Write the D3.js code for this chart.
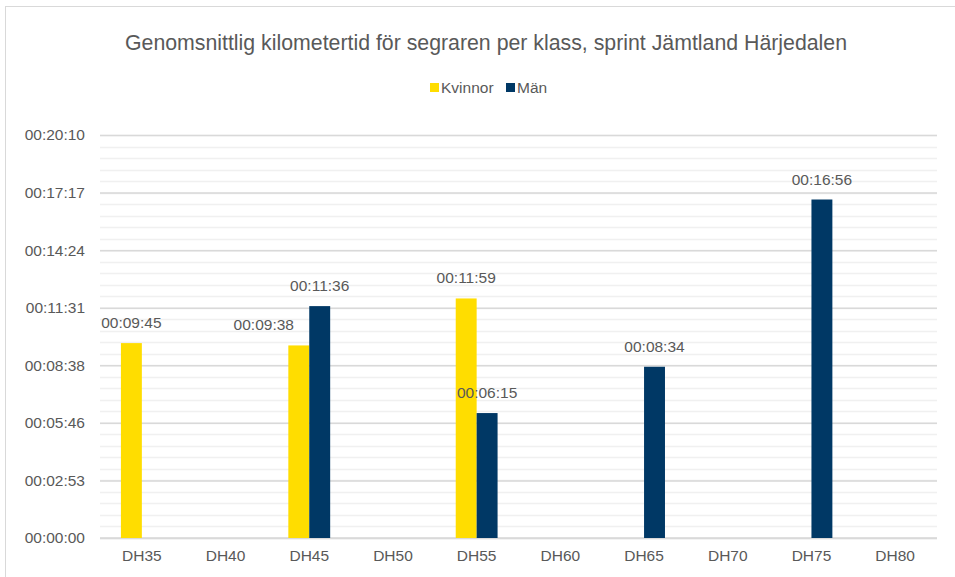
<!DOCTYPE html>
<html>
<head>
<meta charset="utf-8">
<script src="https://cdn.jsdelivr.net/npm/d3@7"></script>
<style>
  body { margin: 0; background: #fff; }
  text { font-family: "Liberation Sans", Arial, sans-serif; fill: #595959; }
</style>
</head>
<body>
<svg id="chart"></svg>
<script>
var width = 955
var height = 577

// data
var categories = ["DH35", "DH40", "DH45", "DH50", "DH55", "DH60", "DH65", "DH70", "DH75", "DH80"]
var seriesNames = ["Kvinnor", "Män"]
var kvinnor = ["00:09:45", null, "00:09:38", null, "00:11:59", null, null, null, null, null]
var man = [null, null, "00:11:36", null, "00:06:15", null, "00:08:34", null, "00:16:56", null]
var tickLabels = ["00:00:00", "00:02:53", "00:05:46", "00:08:38", "00:11:31", "00:14:24", "00:17:17", "00:20:10"]

var colors = {"Kvinnor": "#ffdd00", "Män": "#003865"}

function toSec(s) {
  var p = s.split(":").map(Number)
  return p[0] * 3600 + p[1] * 60 + p[2]
}

// excel axis: major unit 0.002 day, minor 0.0004 day
var majorStep = 0.002 * 86400
var minorStep = 0.0004 * 86400
var yMax = majorStep * (tickLabels.length - 1)

var margin = {left: 100, right: 18, top: 135, bottom: 39}

var svg = d3.select("svg#chart")
    .attr("width", width)
    .attr("height", height)

svg.append("rect")
    .attr("x", 5.5).attr("y", 6.5)
    .attr("width", width).attr("height", height)
    .attr("fill", "#fff")
    .attr("stroke", "#d9d9d9")

var y = d3.scaleLinear()
    .domain([0, yMax])
    .range([height - margin.bottom, margin.top])

var x0 = d3.scaleBand()
    .domain(categories)
    .range([margin.left, width - margin.right])
    .paddingInner(0.5)
    .paddingOuter(0.25)

var x1 = d3.scaleBand()
    .domain(seriesNames)
    .range([0, x0.bandwidth()])

// minor gridlines
var minorTicks = d3.range(0, yMax + 1, minorStep)
svg.append("g")
  .selectAll("line")
  .data(minorTicks)
  .enter().append("line")
    .attr("x1", margin.left)
    .attr("x2", width - margin.right)
    .attr("y1", d => Math.round(y(d)) + 0.5)
    .attr("y2", d => Math.round(y(d)) + 0.5)
    .attr("stroke", "#f0f0f0")
    .attr("stroke-width", 1.5)

// major gridlines + labels
var majorTicks = tickLabels.map((t, i) => i * majorStep)
var yAxis = d3.axisLeft(y)
    .tickValues(majorTicks)
    .tickFormat((d, i) => tickLabels[i])
    .tickSize(-(width - margin.left - margin.right))
    .tickPadding(15)

var gy = svg.append("g")
    .attr("transform", `translate(${margin.left},0)`)
    .call(yAxis)
gy.select(".domain").remove()
gy.selectAll(".tick line")
    .attr("stroke", "#d9d9d9")
    .attr("stroke-width", 1.5)
gy.selectAll(".tick text")
    .attr("fill", "#595959")
    .style("font-size", "15.5px")

// x axis
var xAxis = d3.axisBottom(x0).tickSize(0).tickPadding(12)
var gx = svg.append("g")
    .attr("transform", `translate(0,${y(0)})`)
    .call(xAxis)
gx.select(".domain")
    .attr("d", `M${margin.left},0H${width - margin.right}`)
    .attr("stroke", "#d9d9d9")
    .attr("stroke-width", 1.5)
gx.selectAll(".tick text")
    .attr("fill", "#595959")
    .style("font-size", "15.5px")

// bars
var rows = []
categories.forEach((c, i) => {
  if (kvinnor[i]) rows.push({cat: c, s: "Kvinnor", label: kvinnor[i], v: toSec(kvinnor[i])})
  if (man[i]) rows.push({cat: c, s: "Män", label: man[i], v: toSec(man[i])})
})

svg.append("g")
  .selectAll("rect")
  .data(rows)
  .enter().append("rect")
    .attr("x", d => x0(d.cat) + x1(d.s))
    .attr("y", d => y(d.v))
    .attr("width", x1.bandwidth())
    .attr("height", d => y(0) - y(d.v))
    .attr("fill", d => colors[d.s])

// excel nudges a label sideways when it would run into a taller neighbour bar
function labelShift(d) {
  var other = rows.find(r => r.cat === d.cat && r.s !== d.s)
  if (d.s === "Kvinnor" && other && other.v > d.v) return -35
  return 0
}

svg.append("g")
  .selectAll("text")
  .data(rows)
  .enter().append("text")
    .attr("x", d => x0(d.cat) + x1(d.s) + x1.bandwidth() / 2 + labelShift(d))
    .attr("y", d => y(d.v) - 15)
    .attr("text-anchor", "middle")
    .style("font-size", "15.5px")
    .text(d => d.label)

// title
svg.append("text")
    .attr("x", 486)
    .attr("y", 50)
    .attr("text-anchor", "middle")
    .style("font-size", "21.3px")
    .text("Genomsnittlig kilometertid för segraren per klass, sprint Jämtland Härjedalen")

// legend
var legend = svg.append("g")
  .selectAll("g")
  .data(seriesNames)
  .enter().append("g")
    .attr("transform", (d, i) => `translate(${i === 0 ? 430 : 506},0)`)
legend.append("rect")
    .attr("x", 0).attr("y", 83)
    .attr("width", 9).attr("height", 9)
    .attr("fill", d => colors[d])
legend.append("text")
    .attr("x", 11)
    .attr("y", 93)
    .style("font-size", "15.5px")
    .text(d => d)
</script>
</body>
</html>
